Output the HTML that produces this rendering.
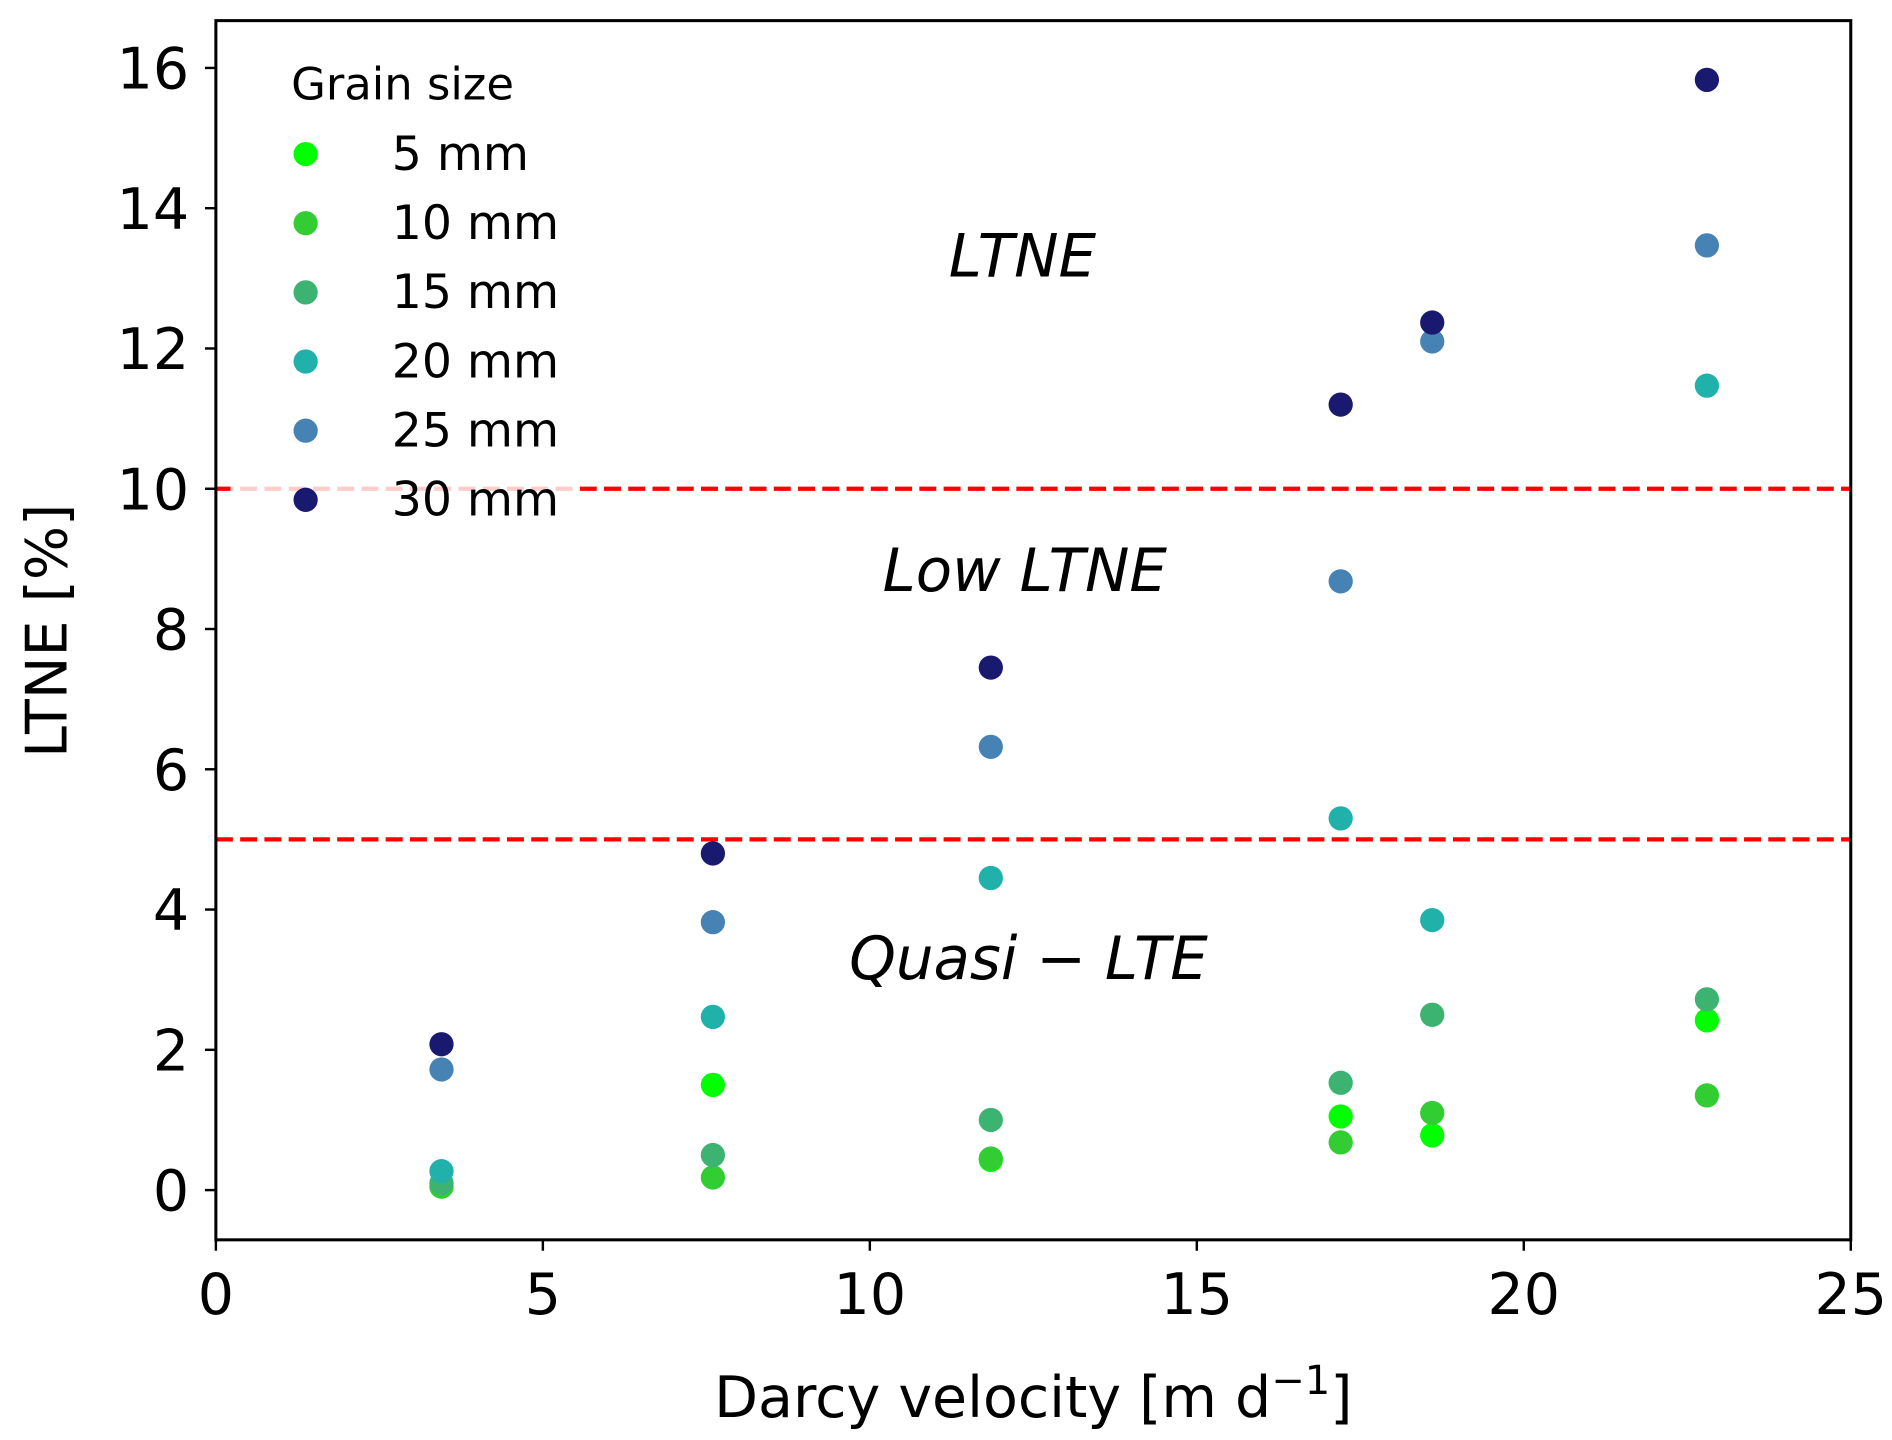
<!DOCTYPE html>
<html><head><meta charset="utf-8"><style>
html,body{margin:0;padding:0;background:#fff;}
svg{display:block;}
text{font-family:"DejaVu Sans","Liberation Sans",sans-serif;}
</style></head><body>
<svg id="chart" width="1892" height="1440" viewBox="0 0 1560 1187" preserveAspectRatio="none" xmlns="http://www.w3.org/2000/svg">
<g id="plot"></g>
</svg>
<script>
const xTicks=[0,5,10,15,20,25];
const yTicks=[0,2,4,6,8,10,12,14,16];
const velocities=[3.45,7.6,11.85,17.2,18.6,22.8];
const seriesNames=["5 mm","10 mm","15 mm","20 mm","25 mm","30 mm"];
const seriesColors=["#00ff00","#32cd32","#3cb371","#20b2aa","#4682b4","#191970"];
const s5=[0.05,1.5,0.43,1.05,0.78,2.42];
const s10=[0.05,0.18,0.45,0.68,1.1,1.35];
const s15=[0.1,0.5,1.0,1.53,2.5,2.72];
const s20=[0.27,2.47,4.45,5.3,3.85,11.47];
const s25=[1.72,3.82,6.32,8.68,12.1,13.47];
const s30=[2.08,4.8,7.45,11.2,12.37,15.83];
const series=[s5,s10,s15,s20,s25,s30];
const thresholds=[5,10];

const L=178,R=1526,T=17,B=1022;
const xS=v=>L+(R-L)*v/25;
const yS=v=>981-(981-56)*v/16;
const NS="http://www.w3.org/2000/svg";
const g=document.getElementById('plot');
function mk(tag,attrs,parent){const e=document.createElementNS(NS,tag);for(const k in attrs)e.setAttribute(k,attrs[k]);(parent||g).appendChild(e);return e;}

thresholds.forEach(t=>{
  const ln=mk('line',{x1:L,x2:R,y1:yS(t),y2:yS(t),stroke:'#ff0000','stroke-width':3.5,'stroke-dasharray':'14,6'});
  
  
});

series.forEach((s,i)=>{
  s.forEach((v,j)=>{
    const c=mk('circle',{cx:xS(velocities[j]),cy:yS(v),r:10,fill:seriesColors[i]});
    
    
  });
});

const lg=mk('g',{});


mk('rect',{x:190,y:30,width:288,height:405,rx:6,fill:'#fff','fill-opacity':0.8},lg);
const lt=mk('text',{x:240,y:82,'font-size':37},lg);lt.textContent='Grain size';


seriesNames.forEach((n,i)=>{
  const y=127+57*i;
  const e=mk('g',{},lg);
  
  
  mk('circle',{cx:252,cy:y,r:10,fill:seriesColors[i]},e);
  const t=mk('text',{x:323,y:y+13,'font-size':39},e);t.textContent=n;
});

[["LTNE",843,228,"region-label-ltne"],["Low LTNE",845,487,"region-label-low-ltne"],["Quasi − LTE",848,807,"region-label-quasi-lte"]].forEach(a=>{
  const t=mk('text',{x:a[1],y:a[2],'font-size':49,'font-style':'italic','text-anchor':'middle'});
  t.textContent=a[0];
  
  
});

const fr=mk('rect',{x:L,y:T,width:R-L,height:B-T,fill:'none',stroke:'#000','stroke-width':2.5});



xTicks.forEach(v=>{
  mk('line',{x1:xS(v),x2:xS(v),y1:B,y2:B+9,stroke:'#000','stroke-width':2});
  const t=mk('text',{x:xS(v),y:B+61,'font-size':47,'text-anchor':'middle'});
  t.textContent=v;
  
  
});
yTicks.forEach(v=>{
  mk('line',{x1:L-9,x2:L,y1:yS(v),y2:yS(v),stroke:'#000','stroke-width':2});
  const t=mk('text',{x:L-22,y:yS(v)+17,'font-size':47,'text-anchor':'end'});
  t.textContent=v;
  
  
});

const xl=mk('text',{x:852,y:1168,'font-size':47,'text-anchor':'middle'});
xl.innerHTML='Darcy velocity [m d<tspan dy="-19" font-size="33">−1</tspan><tspan dy="19">]</tspan>';


const yl=mk('text',{x:0,y:0,'font-size':47,'text-anchor':'middle',transform:'translate(55,520) rotate(-90)'});
yl.textContent='LTNE [%]';


</script>
</body></html>
